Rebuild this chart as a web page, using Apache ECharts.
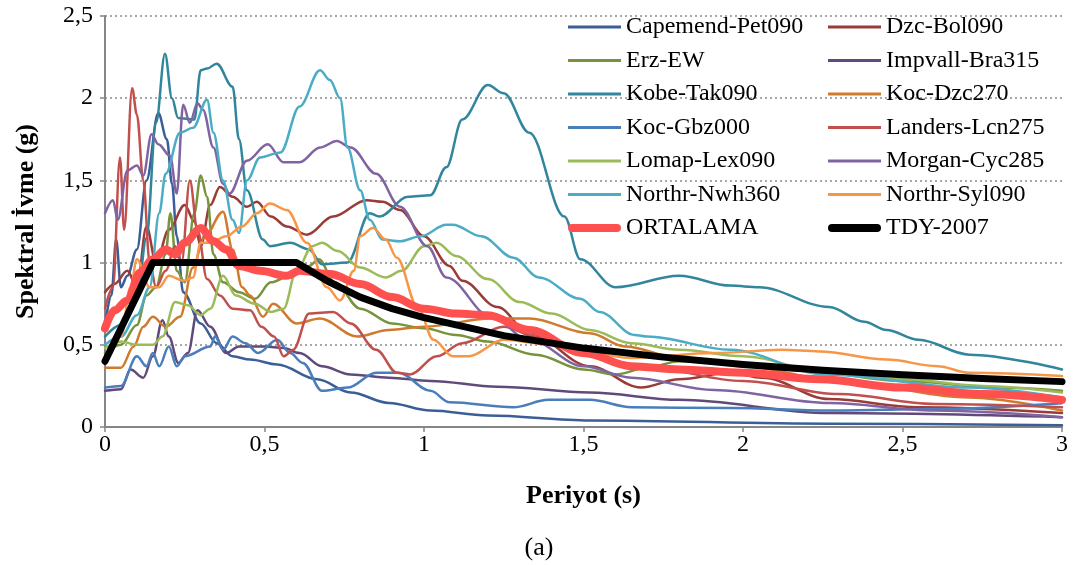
<!DOCTYPE html>
<html>
<head>
<meta charset="utf-8">
<script src="https://cdn.jsdelivr.net/npm/echarts@6/dist/echarts.min.js"></script>
<style>
html,body{margin:0;padding:0;background:#fff;}
#chart{width:1078px;height:565px;}
</style>
</head>
<body>
<div id="chart"></div>
<script>
// Tick labels
var xTicks = [0, 0.5, 1, 1.5, 2, 2.5, 3];
var yTicks = [0, 0.5, 1, 1.5, 2, 2.5];

// Series names (legend order: left column then right column)
var leftNames = ['Capemend-Pet090','Erz-EW','Kobe-Tak090','Koc-Gbz000','Lomap-Lex090','Northr-Nwh360','ORTALAMA'];
var rightNames = ['Dzc-Bol090','Impvall-Bra315','Koc-Dzc270','Landers-Lcn275','Morgan-Cyc285','Northr-Syl090','TDY-2007'];

// [period (s), spectral acceleration (g)]
var capemend = [[0,0.62],[0.02,0.8],[0.035,1.14],[0.05,0.85],[0.07,0.92],[0.1,1.08],[0.13,1.5],[0.167,1.91],[0.194,1.75],[0.21,1.48],[0.225,1.16],[0.245,0.82],[0.3,0.63],[0.35,0.51],[0.4,0.43],[0.455,0.41],[0.54,0.38],[0.665,0.29],[0.77,0.21],[0.89,0.146],[1.02,0.1],[1.2,0.07],[1.52,0.04],[2.27,0.02],[3.0,0.01]];
var dzcBol = [[0,0.82],[0.03,0.87],[0.07,0.95],[0.1,0.85],[0.13,1.22],[0.16,1.0],[0.2,1.2],[0.25,1.35],[0.28,1.25],[0.3,1.1],[0.33,1.35],[0.36,1.46],[0.4,1.4],[0.445,1.34],[0.476,1.37],[0.52,1.28],[0.57,1.22],[0.633,1.17],[0.715,1.28],[0.82,1.38],[0.87,1.37],[0.925,1.32],[1.0,1.16],[1.08,0.98],[1.12,0.89],[1.23,0.73],[1.33,0.57],[1.52,0.37],[1.68,0.24],[1.8,0.29],[1.96,0.33],[2.06,0.3],[2.27,0.17],[2.55,0.12],[3.0,0.085]];
var erzEW = [[0,0.45],[0.05,0.5],[0.1,0.62],[0.13,0.8],[0.16,0.85],[0.19,1.05],[0.205,1.3],[0.225,0.95],[0.25,0.88],[0.28,1.3],[0.3,1.53],[0.32,1.4],[0.34,1.05],[0.37,0.88],[0.42,0.82],[0.47,0.78],[0.52,0.88],[0.58,0.92],[0.64,0.98],[0.67,1.02],[0.72,0.88],[0.8,0.72],[0.9,0.63],[1.0,0.6],[1.1,0.56],[1.2,0.52],[1.35,0.44],[1.5,0.35],[1.6,0.32],[1.7,0.36],[1.8,0.4],[2.0,0.38],[2.2,0.34],[2.5,0.28],[2.8,0.24],[3.0,0.22]];
var impvall = [[0,0.22],[0.05,0.23],[0.08,0.35],[0.12,0.3],[0.15,0.43],[0.18,0.65],[0.2,0.55],[0.23,0.39],[0.26,0.45],[0.29,0.71],[0.33,0.61],[0.38,0.45],[0.42,0.49],[0.5,0.49],[0.56,0.48],[0.61,0.45],[0.68,0.37],[0.77,0.32],[0.89,0.3],[1.02,0.28],[1.23,0.245],[1.52,0.21],[1.8,0.165],[2.27,0.085],[3.0,0.06]];
var kobe = [[0,0.55],[0.05,0.62],[0.1,0.78],[0.13,1.15],[0.16,1.85],[0.188,2.27],[0.21,2.0],[0.229,1.88],[0.28,1.87],[0.3,2.17],[0.32,2.18],[0.35,2.21],[0.4,2.07],[0.42,1.75],[0.445,1.44],[0.495,1.14],[0.517,1.1],[0.58,1.12],[0.64,1.08],[0.68,0.99],[0.76,1.0],[0.83,1.3],[0.86,1.28],[0.95,1.4],[1.02,1.41],[1.07,1.58],[1.12,1.87],[1.2,2.08],[1.25,2.03],[1.33,1.79],[1.44,1.28],[1.49,1.02],[1.6,0.85],[1.8,0.92],[1.96,0.86],[2.05,0.85],[2.27,0.73],[2.38,0.64],[2.45,0.59],[2.55,0.53],[2.71,0.44],[3.0,0.35]];
var kocDzc = [[0,0.36],[0.05,0.36],[0.09,0.49],[0.12,0.61],[0.15,0.67],[0.19,0.61],[0.235,0.67],[0.276,0.97],[0.31,1.15],[0.37,1.31],[0.4,1.08],[0.43,0.85],[0.455,0.8],[0.495,0.67],[0.527,0.75],[0.6,0.63],[0.674,0.66],[0.79,0.55],[0.89,0.59],[1.0,0.61],[1.21,0.66],[1.33,0.66],[1.52,0.57],[1.63,0.49],[1.8,0.42],[2.0,0.37],[2.3,0.28],[2.71,0.18],[3.0,0.1]];
var kocGbz = [[0,0.24],[0.05,0.25],[0.1,0.43],[0.13,0.37],[0.15,0.45],[0.17,0.37],[0.2,0.49],[0.225,0.37],[0.25,0.43],[0.33,0.49],[0.345,0.55],[0.37,0.47],[0.4,0.55],[0.44,0.51],[0.48,0.45],[0.54,0.53],[0.58,0.45],[0.62,0.39],[0.68,0.22],[0.76,0.24],[0.85,0.33],[0.92,0.33],[1.02,0.22],[1.08,0.15],[1.28,0.12],[1.39,0.165],[1.52,0.165],[1.65,0.12],[1.96,0.115],[2.27,0.1],[2.6,0.11],[3.0,0.145]];
var landers = [[0,0.72],[0.025,0.85],[0.047,1.64],[0.06,1.2],[0.085,2.06],[0.1,1.9],[0.12,1.5],[0.14,1.0],[0.16,0.85],[0.19,0.95],[0.22,1.1],[0.24,1.0],[0.266,1.5],[0.29,1.2],[0.32,0.9],[0.36,0.8],[0.4,0.72],[0.455,0.71],[0.49,0.61],[0.53,0.55],[0.56,0.43],[0.59,0.47],[0.64,0.69],[0.715,0.7],[0.77,0.63],[0.85,0.47],[0.915,0.33],[0.956,0.32],[1.04,0.43],[1.12,0.51],[1.25,0.61],[1.35,0.55],[1.5,0.45],[1.7,0.36],[2.0,0.28],[2.3,0.2],[2.6,0.14],[3.0,0.12]];
var lomap = [[0,0.48],[0.05,0.52],[0.1,0.5],[0.15,0.5],[0.18,0.55],[0.22,0.76],[0.26,0.74],[0.3,0.68],[0.33,0.72],[0.37,0.92],[0.41,0.8],[0.47,0.75],[0.52,0.7],[0.56,0.72],[0.6,0.95],[0.65,1.1],[0.68,1.12],[0.73,1.07],[0.8,0.97],[0.88,0.91],[0.93,0.95],[1.0,1.1],[1.04,1.12],[1.1,1.04],[1.2,0.9],[1.3,0.76],[1.4,0.69],[1.52,0.59],[1.65,0.51],[1.8,0.47],[2.0,0.43],[2.27,0.33],[2.5,0.29],[2.75,0.25],[3.0,0.21]];
var morgan = [[0,1.3],[0.025,1.38],[0.04,1.26],[0.07,1.56],[0.1,1.59],[0.12,1.53],[0.146,1.78],[0.167,1.72],[0.204,1.65],[0.225,1.42],[0.245,1.96],[0.266,1.85],[0.29,1.97],[0.307,1.93],[0.34,1.7],[0.37,1.48],[0.39,1.42],[0.445,1.62],[0.51,1.72],[0.56,1.61],[0.61,1.61],[0.674,1.7],[0.727,1.74],[0.77,1.7],[0.85,1.54],[0.925,1.34],[1.01,1.1],[1.07,0.91],[1.21,0.67],[1.33,0.53],[1.5,0.37],[1.65,0.3],[1.91,0.225],[2.27,0.146],[2.6,0.1],[3.0,0.06]];
var nwh = [[0,0.5],[0.05,0.55],[0.1,0.68],[0.14,0.85],[0.17,1.3],[0.19,1.54],[0.235,1.79],[0.276,1.82],[0.32,1.99],[0.34,1.79],[0.37,1.5],[0.4,1.26],[0.42,1.18],[0.445,1.5],[0.486,1.64],[0.55,1.67],[0.61,1.95],[0.674,2.17],[0.705,2.11],[0.737,2.0],[0.76,1.7],[0.8,1.44],[0.83,1.26],[0.87,1.14],[0.925,1.13],[0.99,1.16],[1.07,1.23],[1.09,1.23],[1.18,1.16],[1.28,1.03],[1.36,0.91],[1.49,0.78],[1.55,0.7],[1.66,0.56],[1.7,0.55],[1.96,0.47],[2.26,0.32],[2.71,0.24],[3.0,0.18]];
var syl = [[0,0.4],[0.05,0.55],[0.08,0.85],[0.1,1.02],[0.14,0.85],[0.17,0.85],[0.2,0.92],[0.245,0.89],[0.276,0.91],[0.3,1.12],[0.33,1.12],[0.38,1.16],[0.43,1.22],[0.476,1.3],[0.517,1.36],[0.57,1.32],[0.633,1.12],[0.696,0.85],[0.737,0.77],[0.78,0.95],[0.8,1.16],[0.84,1.21],[0.88,1.14],[0.915,1.03],[0.98,0.73],[1.03,0.53],[1.09,0.43],[1.14,0.43],[1.25,0.53],[1.4,0.5],[1.65,0.42],[1.91,0.45],[2.12,0.47],[2.24,0.46],[2.45,0.41],[2.61,0.37],[2.71,0.33],[3.0,0.31]];
var ortalama = [[0,0.6],[0.03,0.71],[0.07,0.77],[0.11,0.94],[0.15,1.02],[0.19,1.08],[0.22,1.05],[0.25,1.12],[0.3,1.21],[0.34,1.13],[0.38,1.08],[0.42,0.98],[0.486,0.95],[0.57,0.92],[0.61,0.95],[0.705,0.93],[0.8,0.87],[0.9,0.79],[1.0,0.72],[1.1,0.69],[1.2,0.68],[1.33,0.59],[1.5,0.45],[1.65,0.37],[1.8,0.35],[2.0,0.33],[2.24,0.29],[2.5,0.24],[2.75,0.2],[3.0,0.165]];
var tdy = [[0,0.4],[0.15,1.0],[0.6,1.0],[0.7,0.885],[0.8,0.79],[0.9,0.72],[1.0,0.665],[1.25,0.556],[1.5,0.48],[1.75,0.425],[2.0,0.38],[2.25,0.345],[2.5,0.318],[2.75,0.295],[3.0,0.276]];

var seriesDefs = [
  ['Capemend-Pet090', capemend, '#3B5E96', 2.5],
  ['Dzc-Bol090', dzcBol, '#9A3B38', 2.5],
  ['Erz-EW', erzEW, '#77933C', 2.5],
  ['Impvall-Bra315', impvall, '#604A7B', 2.5],
  ['Kobe-Tak090', kobe, '#31859C', 2.5],
  ['Koc-Dzc270', kocDzc, '#D07A2E', 2.5],
  ['Koc-Gbz000', kocGbz, '#4A7EBB', 2.5],
  ['Landers-Lcn275', landers, '#C0504D', 2.5],
  ['Lomap-Lex090', lomap, '#9BBB59', 2.5],
  ['Morgan-Cyc285', morgan, '#8064A2', 2.5],
  ['Northr-Nwh360', nwh, '#4BACC6', 2.5],
  ['Northr-Syl090', syl, '#F79646', 2.5],
  ['ORTALAMA', ortalama, '#FF5050', 8],
  ['TDY-2007', tdy, '#000000', 7]
];

var FONT = 'Liberation Serif';
function fmt(v){ return String(v).replace('.', ','); }

var THIN_ICON = 'path://M0,0H53V3H0Z';
var THICK_ICON = 'path://M4,0H49A4,4,0,0,1,49,8H4A4,4,0,0,1,4,0Z';

var series = seriesDefs.map(function(d){
  var thick = d[3] > 4;
  return {
    name: d[0], type: 'line', data: d[1],
    showSymbol: false, symbol: 'none',
    smooth: d[0] === 'TDY-2007' ? false : 0.35,
    smoothMonotone: 'x',
    lineStyle: { color: d[2], width: d[3], cap: 'round', join: 'round' },
    itemStyle: { color: d[2] },
    z: thick ? 3 : 2,
    animation: false
  };
});

function legend(names, left){
  return {
    data: names.map(function(n){
      return { name: n, icon: (n === 'ORTALAMA' || n === 'TDY-2007') ? THICK_ICON : THIN_ICON };
    }),
    orient: 'vertical', left: left, top: 15, padding: 0,
    itemWidth: 53, itemHeight: 14, itemGap: 9.5, symbolKeepAspect: true,
    textStyle: { fontFamily: FONT, fontSize: 24, color: '#000', lineHeight: 24 }
  };
}

var chart = echarts.init(document.getElementById('chart'), null, {renderer: 'canvas'});
chart.setOption({
  backgroundColor: '#fff',
  animation: false,
  textStyle: { fontFamily: FONT },
  title: {
    text: '(a)', left: 'center', top: 530,
    textStyle: { fontFamily: FONT, fontSize: 26, fontWeight: 'normal', color: '#000' }
  },
  legend: [legend(leftNames, 568), legend(rightNames, 828)],
  grid: { left: 105, right: 16, top: 16, bottom: 138, containLabel: false },
  xAxis: {
    type: 'value', min: xTicks[0], max: xTicks[xTicks.length-1], interval: 0.5,
    name: 'Periyot (s)', nameLocation: 'middle', nameGap: 56,
    nameTextStyle: { fontFamily: FONT, fontSize: 26, fontWeight: 'bold', color: '#000' },
    axisLine: { lineStyle: { color: '#868686', width: 2 } },
    axisTick: { show: true, length: 5, lineStyle: { color: '#868686', width: 1.5 } },
    axisLabel: { fontFamily: FONT, fontSize: 24, color: '#000', margin: 6, formatter: fmt },
    splitLine: { show: false }
  },
  yAxis: {
    type: 'value', min: yTicks[0], max: yTicks[yTicks.length-1], interval: 0.5,
    name: 'Spektral İvme (g)', nameLocation: 'middle', nameGap: 66,
    nameTextStyle: { fontFamily: FONT, fontSize: 26, fontWeight: 'bold', color: '#000' },
    axisLine: { show: true, lineStyle: { color: '#868686', width: 2 } },
    axisTick: { show: true, length: 5, lineStyle: { color: '#868686', width: 1.5 } },
    axisLabel: { fontFamily: FONT, fontSize: 24, color: '#000', margin: 12, formatter: fmt },
    splitLine: { show: true, lineStyle: { color: '#8c8c8c', width: 1.5, type: [2, 3] } }
  },
  series: series
});
</script>
</body>
</html>
